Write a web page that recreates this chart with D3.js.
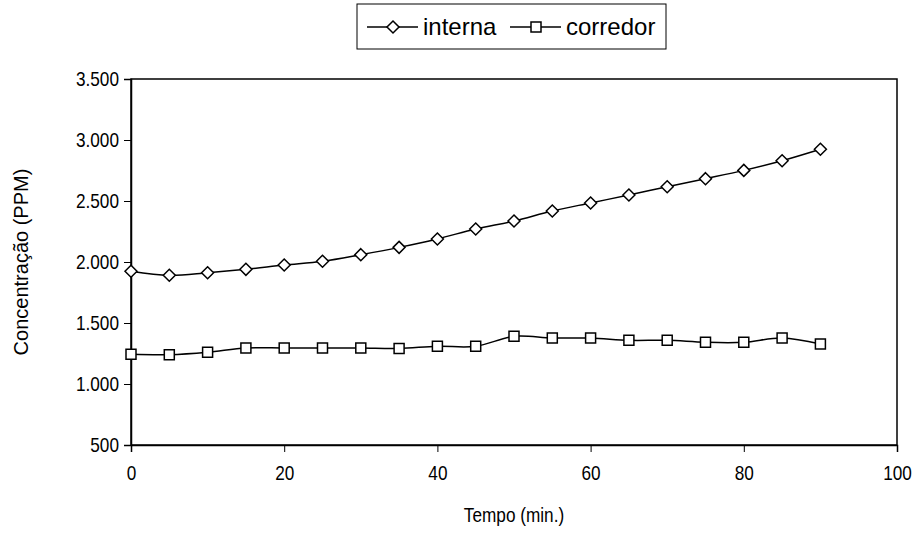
<!DOCTYPE html>
<html>
<head>
<meta charset="utf-8">
<script src="https://cdn.jsdelivr.net/npm/d3@7"></script>
<style>
  body { margin: 0; background: #fff; }
  svg { font-family: "Liberation Sans", Arial, sans-serif; }
</style>
</head>
<body>
<svg id="chart" width="920" height="540"></svg>
<script>
// time in minutes
const tempo = [0, 5, 10, 15, 20, 25, 30, 35, 40, 45, 50, 55, 60, 65, 70, 75, 80, 85, 90];
const interna = [1924, 1891, 1912, 1940, 1975, 2006, 2060, 2120, 2189, 2271, 2336, 2418, 2484, 2549, 2617, 2683, 2751, 2830, 2924];
const corredor = [1243, 1240, 1260, 1295, 1295, 1295, 1295, 1292, 1309, 1309, 1391, 1377, 1377, 1358, 1358, 1342, 1342, 1377, 1328];
const xTicks = [0, 20, 40, 60, 80, 100];
const yTicks = [500, 1000, 1500, 2000, 2500, 3000, 3500];
const seriesNames = ["interna", "corredor"];

const svg = d3.select("#chart");
const m = { left: 131, top: 79, right: 897, bottom: 445 };
const squeeze = 0.86; // the source text looks horizontally condensed

const x = d3.scaleLinear().domain([0, 100]).range([m.left, m.right]);
const y = d3.scaleLinear().domain([500, 3500]).range([m.bottom, m.top]);

const fmt = d => d3.format(",")(d).replace(/,/g, ".");

// plot frame
svg.append("rect")
  .attr("x", m.left).attr("y", m.top)
  .attr("width", m.right - m.left).attr("height", m.bottom - m.top)
  .attr("fill", "none").attr("stroke", "#000").attr("stroke-width", 1.5);

// axes
const xAxis = svg.append("g").attr("transform", `translate(0,${m.bottom})`)
  .call(d3.axisBottom(x).tickValues(xTicks).tickSize(7).tickPadding(14));
const yAxis = svg.append("g").attr("transform", `translate(${m.left},0)`)
  .call(d3.axisLeft(y).tickValues(yTicks).tickFormat(fmt).tickSize(7).tickPadding(7));
[xAxis, yAxis].forEach(a => {
  a.select(".domain").attr("stroke", "#000").attr("stroke-width", 1.5);
  a.selectAll(".tick line").attr("stroke", "#000").attr("stroke-width", 1);
  a.selectAll(".tick text").attr("font-size", 20).attr("fill", "#000")
    .attr("font-family", "'Liberation Sans', Arial, sans-serif")
    .attr("transform", `scale(${squeeze},1)`);
});

// axis titles
svg.append("text").attr("transform", `translate(514,522) scale(${squeeze},1)`)
  .attr("text-anchor", "middle").attr("font-size", 20).text("Tempo (min.)");
svg.append("text").attr("transform", "translate(28,262) rotate(-90)")
  .attr("text-anchor", "middle").attr("font-size", 20).text("Concentração (PPM)");

const line = d3.line().x(d => x(d[0])).y(d => y(d[1])).curve(d3.curveCatmullRom.alpha(0));

const diamond = s => `M0,${-s}L${s},0L0,${s}L${-s},0Z`;
const square = s => `M${-s},${-s}H${s}V${s}H${-s}Z`;
const shapes = [diamond(6), square(5)];

[interna, corredor].forEach((vals, i) => {
  const pts = tempo.map((t, j) => [t, vals[j]]);
  svg.append("path").datum(pts).attr("d", line)
    .attr("fill", "none").attr("stroke", "#000").attr("stroke-width", 1.5);
  svg.append("g").selectAll("path").data(pts).join("path")
    .attr("transform", d => `translate(${x(d[0])},${y(d[1])})`)
    .attr("d", shapes[i])
    .attr("fill", "#fff").attr("stroke", "#000").attr("stroke-width", 1.5);
});

// legend
const lg = svg.append("g");
lg.append("rect").attr("x", 357).attr("y", 4).attr("width", 309).attr("height", 45)
  .attr("fill", "#fff").attr("stroke", "#000").attr("stroke-width", 1);
const lgX = [367, 510];
seriesNames.forEach((name, i) => {
  const g = lg.append("g").attr("transform", `translate(${lgX[i]},27)`);
  g.append("line").attr("x1", 0).attr("x2", 51).attr("stroke", "#000").attr("stroke-width", 1.5);
  g.append("path").attr("transform", "translate(26,0)").attr("d", shapes[i])
    .attr("fill", "#fff").attr("stroke", "#000").attr("stroke-width", 1.5);
  g.append("text").attr("x", 56).attr("y", 8).attr("font-size", 24).text(name);
});
</script>
</body>
</html>
